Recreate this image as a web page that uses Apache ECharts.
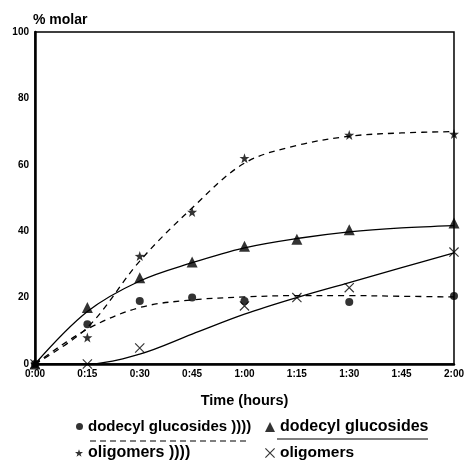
<!DOCTYPE html>
<html><head><meta charset="utf-8">
<script src="https://cdn.jsdelivr.net/npm/echarts@6/dist/echarts.min.js"></script>
<style>html,body{margin:0;padding:0;background:#fff}#c{width:467px;height:462px}</style>
</head><body><div id="c"></div>
<script>
// time in minutes
const times = [0, 15, 30, 45, 60, 75, 90, 105, 120];
const xTicks = ['0:00','0:15','0:30','0:45','1:00','1:15','1:30','1:45','2:00'];
const yTicks = [0, 20, 40, 60, 80, 100];

// measured points [minutes, % molar]
const gluUS = [[0,0],[15,12],[30,19],[45,20],[60,19],[90,18.7],[120,20.5]];
const gluSil = [[0,0],[15,17],[30,26],[45,30.7],[60,35.5],[75,37.6],[90,40.4],[120,42.5]];
const oligUS = [[0,0],[15,8],[30,32.5],[45,45.8],[60,62],[90,69],[120,69.3]];
const oligSil = [[0,0],[15,0],[30,4.8],[60,17.5],[75,20],[90,23],[120,33.7]];

// fitted curves read at each 15 min tick
const gluUSCurve = [0, 10.5, 17, 19.3, 20.2, 20.6, 20.6, 20.4, 20.2];
const gluSilCurve = [0, 15.8, 25, 30.5, 35, 37.8, 39.8, 41, 41.7];
const oligUSCurve = [0, 11, 31, 47, 60.5, 65.8, 68.6, 69.6, 70];
const oligSilCurve = [0, 0, 3, 9, 15, 20, 24.5, 29, 33.5];

const names = ['dodecyl glucosides ))))', 'dodecyl glucosides', 'oligomers ))))', 'oligomers'];
const starPath = 'path://M5,0 L6.18,3.38 L9.76,3.45 L6.9,5.62 L7.94,9.05 L5,7 L2.06,9.05 L3.1,5.62 L0.24,3.45 L3.82,3.38 Z';
const xPath = 'path://M0,0.8 L0.8,0 L10,9.2 L9.2,10 Z M9.2,0 L10,0.8 L0.8,10 L0,9.2 Z';

const font = 'Liberation Sans, Arial, sans-serif';
const pair = (arr) => times.map((t, i) => [t, arr[i]]);

function curve(data, dashed) {
  return {type: 'line', data: pair(data), smooth: 0.35, showSymbol: false, silent: true,
    lineStyle: {color: '#000', width: 1.3, type: dashed ? [6, 5] : 'solid'}, z: 2};
}
function marks(name, data, symbol, size) {
  return {type: 'scatter', name: name, data: data, symbol: symbol, symbolSize: size,
    itemStyle: {color: '#000'}, z: 3};
}
function leg(name, icon, left, top, size, fs) {
  return {show: true, data: [{name: name, icon: icon}], left: left, top: top, padding: 0,
    itemWidth: size, itemHeight: size, itemGap: 0, selectedMode: false,
    textStyle: {fontFamily: font, fontWeight: 'bold', fontSize: fs, color: '#000'}};
}

const chart = echarts.init(document.getElementById('c'));
chart.setOption({
  backgroundColor: '#fff',
  animation: false,
  grid: {left: 35, right: 10, top: 32, bottom: 98, show: true, borderColor: '#000', borderWidth: 1.5},
  xAxis: {type: 'value', min: 0, max: 120, interval: 15,
    name: 'Time (hours)', nameLocation: 'middle', nameGap: 29,
    nameTextStyle: {fontFamily: font, fontWeight: 'bold', fontSize: 14.5, color: '#000'},
    axisLine: {lineStyle: {color: '#000', width: 2.5}}, axisTick: {show: false}, splitLine: {show: false},
    axisLabel: {fontFamily: font, fontWeight: 'bold', fontSize: 10, color: '#000', margin: 5,
      formatter: (v) => xTicks[times.indexOf(v)] || ''}},
  yAxis: {type: 'value', min: 0, max: 100, interval: 20,
    name: '% molar', nameLocation: 'end', nameGap: 4,
    nameTextStyle: {fontFamily: font, fontWeight: 'bold', fontSize: 14, color: '#000', align: 'left', padding: [0,0,0,-2]},
    axisLine: {show: true, lineStyle: {color: '#000', width: 2.5}}, axisTick: {show: false}, splitLine: {show: false},
    axisLabel: {fontFamily: font, fontWeight: 'bold', fontSize: 10, color: '#000', margin: 6,
      formatter: (v) => yTicks.indexOf(v) >= 0 ? String(v) : ''}},
  legend: [
    leg(names[0], 'circle', 76, 419, 7, 15),
    leg(names[1], 'triangle', 265, 419, 10, 16),
    leg(names[2], starPath, 75, 445, 8, 16),
    leg(names[3], xPath, 265, 445, 10, 15.5)
  ],
  graphic: [
    {type: 'line', shape: {x1: 90, y1: 441, x2: 250, y2: 441}, style: {stroke: '#000', lineWidth: 1.2, lineDash: [6, 4]}},
    {type: 'line', shape: {x1: 277, y1: 439, x2: 428, y2: 439}, style: {stroke: '#000', lineWidth: 1.2}}
  ],
  series: [
    curve(gluUSCurve, true),
    curve(gluSilCurve, false),
    curve(oligUSCurve, true),
    curve(oligSilCurve, false),
    marks(names[0], gluUS, 'circle', 8),
    marks(names[1], gluSil, 'triangle', 11),
    marks(names[2], oligUS, starPath, 10),
    marks(names[3], oligSil, xPath, 10)
  ]
});
</script></body></html>
